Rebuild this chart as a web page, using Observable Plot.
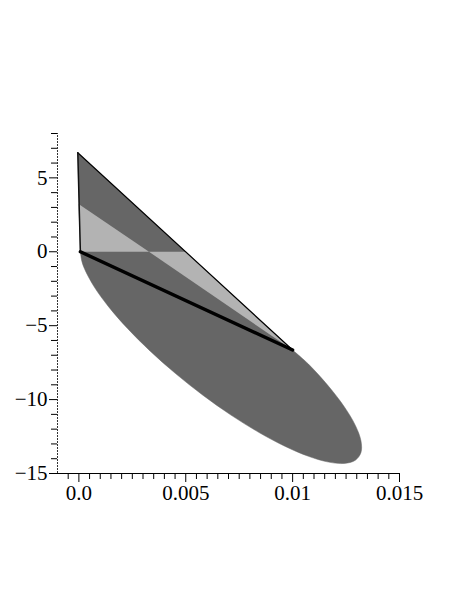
<!DOCTYPE html>
<html>
<head>
<meta charset="utf-8">
<script src="https://cdn.jsdelivr.net/npm/d3@7"></script>
<script src="https://cdn.jsdelivr.net/npm/@observablehq/plot@0.6"></script>
<style>
  html, body { margin: 0; padding: 0; background: #fff; }
</style>
</head>
<body>
<div id="chart"></div>
<script>
// Dark triangle
const triX = [-0.00005, 0.00007, 0.01];
const triY = [6.7, 0, -6.65];

// Ellipse boundary below the chord
const ellX = [0.00007, 0.000136, 0.000261, 0.000701, 0.001378, 0.002266, 0.003328, 0.004523,
  0.005802, 0.007115, 0.00841, 0.009635, 0.01074, 0.011683, 0.012424, 0.012936, 0.013197,
  0.013197, 0.012936, 0.012424, 0.011683, 0.01074, 0.01];
const ellY = [0, -0.628, -1.144, -2.335, -3.696, -5.174, -6.709, -8.239,
  -9.705, -11.048, -12.213, -13.155, -13.837, -14.23, -14.319, -14.101, -13.584,
  -12.79, -11.749, -10.503, -9.102, -7.601, -6.65];

// Light triangles
const lightAX = [-0.00003, 0.00007, 0.00328];
const lightAY = [3.25, 0, 0];
const lightBX = [0.00328, 0.00502, 0.01];
const lightBY = [0, 0, -6.65];

// Lines
const hypX = [-0.00005, 0.01];
const hypY = [6.7, -6.65];
const leftX = [-0.00005, 0.00007];
const leftY = [6.7, 0];
const chordX = [0.00007, 0.01];
const chordY = [0, -6.65];

// Axes
const xMajor = [0, 0.005, 0.01, 0.015];
const xMajorLabels = ["0.0", "0.005", "0.01", "0.015"];
const xMinor = [-0.0005, 0.0005, 0.001, 0.0015, 0.002, 0.0025, 0.003, 0.0035, 0.004, 0.0045,
  0.0055, 0.006, 0.0065, 0.007, 0.0075, 0.008, 0.0085, 0.009, 0.0095,
  0.0105, 0.011, 0.0115, 0.012, 0.0125, 0.013, 0.0135, 0.014, 0.0145];
const yMajor = [-15, -10, -5, 0, 5];
const yMajorLabels = ["−15", "−10", "−5", "0", "5"];
const yMinor = [-14, -13, -12, -11, -9, -8, -7, -6, -4, -3, -2, -1, 1, 2, 3, 4, 6, 7, 8];

const pts = (xs, ys) => xs.map((x, i) => ({x, y: ys[i]}));

const DARK = "#666666";
const LIGHT = "#b3b3b3";

const chart = Plot.plot({
  width: 469,
  height: 607,
  marginLeft: 57,
  marginRight: 70,
  marginTop: 133,
  marginBottom: 134,
  x: {type: "linear", domain: [-0.001, 0.015], label: null},
  y: {type: "linear", domain: [-15, 8], label: null},
  style: {fontFamily: "Liberation Serif, Times New Roman, serif", fontSize: "21px", background: "#fff"},
  marks: [
    Plot.line(pts(ellX, ellY), {x: "x", y: "y", fill: DARK, stroke: DARK, strokeWidth: 0.5, curve: "catmull-rom"}),
    Plot.line(pts(triX, triY), {x: "x", y: "y", fill: DARK, stroke: DARK, strokeWidth: 0.5, curve: "linear"}),
    Plot.line(pts(lightAX, lightAY), {x: "x", y: "y", fill: LIGHT, stroke: "none", curve: "linear"}),
    Plot.line(pts(lightBX, lightBY), {x: "x", y: "y", fill: LIGHT, stroke: "none", curve: "linear"}),
    Plot.line(pts(hypX, hypY), {x: "x", y: "y", stroke: "#000", strokeWidth: 1.2}),
    Plot.line(pts(leftX, leftY), {x: "x", y: "y", stroke: "#111", strokeWidth: 1.5}),
    Plot.line(pts(chordX, chordY), {x: "x", y: "y", stroke: "#000", strokeWidth: 3.4}),
    // axis lines
    Plot.ruleX([-0.001], {y1: -15, y2: 8, stroke: "#333", strokeWidth: 1, strokeDasharray: "2,1"}),
    Plot.ruleY([-15], {x1: -0.001, x2: 0.015, stroke: "#000", strokeWidth: 1}),
    // y ticks
    Plot.axisY({ticks: yMinor, tickSize: 6, tickFormat: () => "", anchor: "left", label: null}),
    Plot.axisY({ticks: yMajor, tickSize: 8, tickPadding: 2, anchor: "left", label: null,
      tickFormat: d => yMajorLabels[yMajor.indexOf(d)], fontSize: 21, fill: "#000"}),
    // x ticks
    Plot.axisX({ticks: xMinor, tickSize: 6, tickFormat: () => "", anchor: "bottom", label: null}),
    Plot.axisX({ticks: xMajor, tickSize: 9, tickPadding: 3, anchor: "bottom", label: null,
      tickFormat: d => xMajorLabels[xMajor.indexOf(d)], fontSize: 21, fill: "#000"})
  ]
});
document.getElementById("chart").appendChild(chart);
</script>
</body>
</html>
